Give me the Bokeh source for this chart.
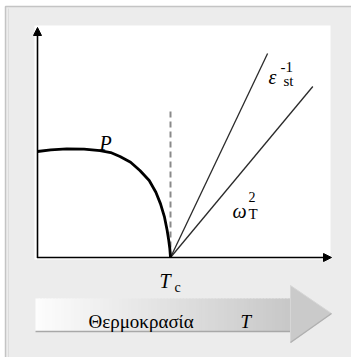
import numpy as np
from bokeh.plotting import figure
from bokeh.models import Range1d, Arrow, NormalHead
from bokeh.core.properties import value
from bokeh.embed import file_html
from bokeh.resources import INLINE

# Spontaneous polarisation below the transition (T in units of Tc, P in units of P(0))
t_pol = [0.0, 0.10, 0.22, 0.35, 0.47, 0.55, 0.62, 0.70, 0.77, 0.84,
         0.89, 0.925, 0.955, 0.975, 0.987, 0.995, 1.0]
pol = [1.00, 1.015, 1.025, 1.022, 1.009, 0.99, 0.953, 0.899, 0.821, 0.726,
       0.616, 0.506, 0.38, 0.255, 0.16, 0.082, 0.0]

t_c = 1.0
# Above Tc: inverse static permittivity and squared soft-mode frequency
t_eps = [1.0, 1.73]
eps_inv = [0.0, 1.925]
t_omega = [1.0, 2.07]
omega_sq = [0.0, 1.613]
dash_top = 1.415

# canvas geometry: pixels per data unit and origin position
KX, KY = 133.0, 106.0
OX, OY = 37.0, 257.0
W, H = 351, 357
x0, x1 = -OX / KX, (W - OX) / KX
y0, y1 = -(H - OY) / KY, OY / KY


def sx(px):
    return (px - OX) / KX


def sy(py):
    return (OY - py) / KY


SERIF = value("'Liberation Serif'")

p = figure(width=W, height=H, x_range=Range1d(x0, x1), y_range=Range1d(y0, y1),
           x_axis_type=None, y_axis_type=None, toolbar_location=None,
           output_backend="svg", min_border=0)
p.outline_line_color = None
p.grid.visible = False
p.background_fill_color = "white"
p.border_fill_color = "white"

# grey panel
p.quad(left=[sx(5)], right=[sx(360)], top=[sy(6)], bottom=[sy(370)],
       fill_color="#ececec", line_color="#c4c4c4", line_width=1.5)
p.segment(x0=[sx(8)], y0=[sy(8)], x1=[sx(8)], y1=[sy(360)], line_color="#dcdcdc", line_width=1)
# white plotting area
p.quad(left=[sx(34)], right=[sx(330)], top=[sy(25)], bottom=[sy(259)],
       fill_color="white", line_color=None)

# temperature arrow with a white-to-grey gradient
n = 80
edges = np.linspace(35, 291, n + 1)
shade = np.linspace(253, 200, n)
cols = ["#%02x%02x%02x" % (int(c), int(c), int(c)) for c in shade]
p.quad(left=[sx(e) for e in edges[:-1]], right=[sx(e) + 0.01 for e in edges[1:]],
       top=[sy(298)] * n, bottom=[sy(331)] * n, fill_color=cols, line_color=None)
p.segment(x0=[sx(35)], y0=[sy(331)], x1=[sx(291)], y1=[sy(331)],
          line_color="#a8a8a8", line_width=1.5)
p.patch(x=[sx(290), sx(331), sx(290)], y=[sy(285), sy(313), sy(342)],
        fill_color="#cacaca", line_color="#d6d6d6", line_width=1)
p.line(x=[sx(331), sx(290)], y=[sy(313), sy(342)], line_color="#b0b0b0", line_width=1.5)

# axes
p.add_layout(Arrow(end=NormalHead(size=8, fill_color="black", line_color="black"),
                   x_start=0, y_start=sy(257.5), x_end=0, y_end=sy(27),
                   line_color="black", line_width=1.6))
p.add_layout(Arrow(end=NormalHead(size=8, fill_color="black", line_color="black"),
                   x_start=sx(36.5), y_start=0, x_end=sx(331), y_end=0,
                   line_color="black", line_width=1.6))

# curves
p.line(x=[t_c, t_c], y=[0, dash_top], line_color="#8a8a8a", line_width=2, line_dash="6 4")
p.line(x=t_eps, y=eps_inv, line_color="#2a2a2a", line_width=1.3)
p.line(x=t_omega, y=omega_sq, line_color="#2a2a2a", line_width=1.3)
p.line(x=t_pol, y=pol, line_color="black", line_width=2.8, line_join="round")


# labels: (px, py) is the left end (or centre) of the text baseline
def lab(px, py, txt, size, italic=False, align="left"):
    p.text(x=[sx(px)], y=[sy(py)], text=[txt], text_font=SERIF,
           text_font_style="italic" if italic else "normal",
           text_font_size=f"{size}px", text_align=align,
           text_baseline="alphabetic")


lab(88, 321, "Θερμοκρασία", 19)
lab(240, 321, "T", 19, italic=True)
lab(105, 142, "P", 20, italic=True, align="center")
lab(268, 76, "ε", 20, italic=True)
lab(280, 66, "-1", 15)
lab(283, 80, "st", 15)
lab(232, 210, "ω", 20, italic=True)
lab(248, 196, "2", 14)
lab(248, 213, "T", 15)
lab(159, 280, "T", 20, italic=True)
lab(174, 287, "c", 14)

open("out.html", "w").write(file_html(p, INLINE))
